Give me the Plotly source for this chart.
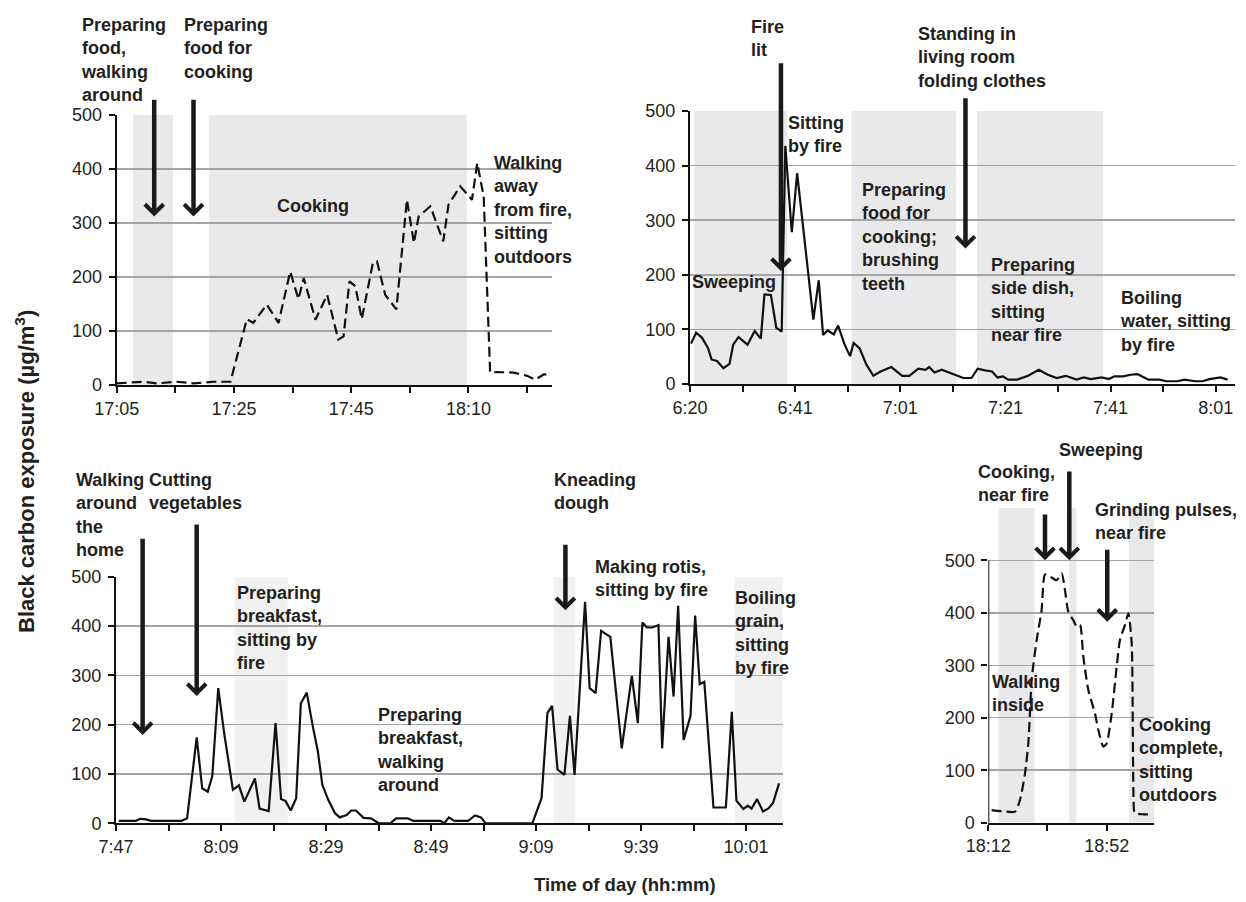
import plotly.graph_objects as go

W, H = 1246, 902

# ---------------- DATA ----------------
# Panel 1 (dashed) : x in sample units (10 units per axis tick)
p1_x = [0, 2.3, 4.55, 6.83, 10.2, 13.1, 16.5, 19.4, 22.2, 23.3, 25.6, 27.6, 29.6, 31.0, 31.9, 33.9, 35.9, 37.8,
        38.7, 39.7, 40.7, 41.8, 43.7, 44.4, 45.8, 47.7, 49.5, 50.7, 51.5, 53.5, 55.7, 56.6, 58.6, 60.6, 61.5, 62.6,
        63.7, 64.9, 67.7, 70.0, 71.4, 72.9, 74.0]
p1_y = [3, 4, 6, 3, 6, 3, 6, 6, 122, 115, 149, 115, 210, 159, 198, 121, 167, 84,
        90, 192, 183, 122, 226, 229, 167, 140, 343, 263, 312, 331, 266, 334, 368, 343, 411, 349,
        23, 24, 23, 17, 10, 20, 17]
p1_ticklabels = ["17:05", "", "17:25", "", "17:45", "", "18:10", ""]
p1_shade = [(2.8, 9.6), (15.7, 59.7)]

# Panel 2 (solid)
p2_x = [0.2, 1.16, 2.26, 3.42, 4.10, 5.13, 6.36, 7.52, 8.21, 9.23, 10.94, 12.31, 13.47, 14.16, 15.39, 16.42,
        17.44, 18.13, 19.36, 20.38, 23.46, 24.49, 25.31, 26.20, 27.36, 28.18, 29.41, 30.44, 31.12, 32.28,
        33.52, 34.88, 36.25, 38.30, 40.36, 41.72, 43.43, 44.80, 45.49, 46.51, 47.88, 49.25, 50.62, 51.98,
        53.56, 54.72, 56.09, 57.46, 58.48, 59.51, 60.53, 62.24, 64.30, 66.35, 68.06, 69.77, 71.48, 73.53,
        74.90, 76.27, 78.32, 79.69, 80.71, 82.42, 83.79, 85.16, 87.21, 89.26, 90.63, 92.68, 94.05, 96.10,
        97.47, 98.84, 100.89, 102.26]
p2_y = [74, 94, 85, 66, 45, 42, 29, 37, 72, 86, 72, 97, 83, 164, 163, 103,
        96, 436, 278, 386, 118, 190, 90, 98, 91, 107, 72, 51, 75, 65,
        36, 15, 23, 31, 15, 15, 28, 26, 31, 21, 26, 21, 17, 11,
        11, 28, 25, 23, 12, 14, 8, 8, 15, 26, 17, 11, 15, 8,
        12, 9, 12, 9, 14, 14, 17, 18, 8, 8, 5, 5, 8, 5,
        5, 9, 12, 8]
p2_ticklabels = ["6:20", "", "6:41", "", "7:01", "", "7:21", "", "7:41", "", "8:01"]
p2_shade = [(0.8, 18.5), (30.7, 50.6), (54.6, 78.6)]

# Panel 3 (solid)
p3_x = [0.52, 3.76, 4.63, 5.76, 6.64, 12.49, 13.54, 15.37, 16.42, 17.47, 18.34, 19.48, 20.61, 22.27, 23.41,
        24.45, 26.46, 27.34, 29.08, 30.39, 31.44, 32.31, 33.28, 34.32, 35.20, 36.33, 37.55, 38.43, 39.30,
        40.44, 41.75, 42.62, 43.93, 44.80, 45.68, 47.16, 48.56, 50.04, 52.23, 53.36, 55.55, 56.59, 61.83,
        62.53, 63.41, 64.45, 67.07, 68.38, 69.52, 70.39, 79.30, 81.05, 82.18, 83.06, 84.10, 85.41, 86.46,
        87.34, 89.34, 90.22, 91.35, 92.40, 94.15, 96.33, 97.38, 98.25, 99.39, 100.26, 101.14, 102.18,
        103.32, 104.02, 105.24, 106.20, 107.07, 108.12, 109.43, 110.31, 111.18, 112.05, 113.80, 116.16,
        117.29, 118.17, 119.48, 120.35, 121.05, 122.10, 123.23, 124.28, 125.15, 126.29]
p3_y = [5, 5, 9, 8, 5, 5, 10, 174, 71, 64, 96, 274, 182, 68, 77,
        44, 91, 30, 25, 203, 49, 45, 26, 51, 243, 265, 193, 147, 78,
        47, 20, 12, 17, 26, 26, 11, 10, 0, 0, 10, 10, 5, 5,
        0, 12, 5, 5, 16, 12, 0, 0, 51, 224, 238, 109, 98, 218,
        98, 449, 274, 264, 390, 378, 152, 233, 299, 203, 407, 397, 397,
        402, 152, 378, 257, 441, 169, 218, 421, 282, 287, 32, 32,
        226, 46, 29, 36, 30, 49, 24, 30, 41, 81]
p3_ticklabels = ["7:47", "", "8:09", "", "8:29", "", "8:49", "", "9:09", "", "9:39", "", "10:01"]
p3_shade = [(22.6, 32.7), (83.4, 87.5), (117.8, 127.0)]

# Panel 4 (dashed, smoothed)
p4_x = [0.56, 2.25, 4.51, 5.35, 6.20, 6.76, 7.04, 7.32, 8.17, 9.01, 9.58, 10.42, 11.55, 12.39, 12.96, 13.52,
        14.37, 14.93, 15.49, 16.06, 16.90, 18.03, 18.59, 19.44, 20.0, 20.85, 21.69, 22.25, 23.10, 23.66,
        24.23, 24.62, 24.79, 26.2, 27.6]
p4_y = [24, 22, 21, 43, 94, 151, 208, 272, 348, 405, 473, 469, 462, 475, 443, 402,
        386, 374, 377, 316, 253, 208, 177, 145, 151, 208, 297, 348, 377, 399,
        342, 24, 18, 16, 16]
p4_ticklabels = ["18:12", "", "18:52"]
p4_shade = [(1.7, 7.8), (13.7, 14.9), (23.8, 28.0)]

# Event arrows: (panel, x, tip value, tail value)
arrows = [
    (1, 6.4, 312, 531), (1, 13.1, 312, 531),
    (2, 17.3, 207, 590), (2, 52.4, 248, 526),
    (3, 5.07, 179, 580), (3, 15.37, 258, 609), (3, 85.6, 432, 568),
    (4, 9.58, 500, 590), (4, 13.69, 500, 672), (4, 20.1, 383, 523),
]

# Labels: (text, left px, first-line centre px)
labels = [
    ("Preparing<br>food,<br>walking<br>around", 80, 25),
    ("Preparing<br>food for<br>cooking", 183, 25),
    ("Cooking", 276, 206),
    ("Walking<br>away<br>from fire,<br>sitting<br>outdoors", 493, 163),
    ("Fire<br>lit", 750, 27),
    ("Standing in<br>living room<br>folding clothes", 917, 34),
    ("Sitting<br>by fire", 787, 123),
    ("Sweeping", 691, 282),
    ("Preparing<br>food for<br>cooking;<br>brushing<br>teeth", 861, 190),
    ("Preparing<br>side dish,<br>sitting<br>near fire", 990, 265),
    ("Boiling<br>water, sitting<br>by fire", 1119, 298),
    ("Walking<br>around<br>the<br>home", 75, 480),
    ("Cutting<br>vegetables", 148, 480),
    ("Preparing<br>breakfast,<br>sitting by<br>fire", 236, 593),
    ("Preparing<br>breakfast,<br>walking<br>around", 376, 715),
    ("Kneading<br>dough", 553, 480),
    ("Making rotis,<br>sitting by fire", 594, 567),
    ("Boiling<br>grain,<br>sitting<br>by fire", 734, 598),
    ("Cooking,<br>near fire", 977, 472),
    ("Sweeping", 1058, 450),
    ("Grinding pulses,<br>near fire", 1094, 510),
    ("Walking<br>inside", 991, 682),
    ("Cooking<br>complete,<br>sitting<br>outdoors", 1138, 725),
]

# ---------------- LAYOUT GEOMETRY (pixels) ----------------
panels = {
    1: dict(px0=116.7, px1=551.7, pyb=385, pyt=115, xr=74.2, yr=500, shade="#e9e9eb"),
    2: dict(px0=690, px1=1235, pyb=384, pyt=111, xr=103.67, yr=500, shade="#e9e9eb"),
    3: dict(px0=116, px1=783.3, pyb=823.3, pyt=576.7, xr=127.1, yr=500, shade="#f0f1f0"),
    4: dict(px0=988.3, px1=1154, pyb=822.7, pyt=507.8, xr=28.0, yr=600, shade="#e9e9eb"),
}
series = {
    1: (p1_x, p1_y, p1_ticklabels, p1_shade, "10px,5px", "linear"),
    2: (p2_x, p2_y, p2_ticklabels, p2_shade, "solid", "linear"),
    3: (p3_x, p3_y, p3_ticklabels, p3_shade, "solid", "linear"),
    4: (p4_x, p4_y, p4_ticklabels, p4_shade, "10px,5px", "spline"),
}

FONT = "Liberation Sans, Arial, sans-serif"
TXT = "#231f20"

fig = go.Figure()
layout = dict(width=W, height=H, margin=dict(l=0, r=0, t=0, b=0, pad=0, autoexpand=False),
              template="none",
              paper_bgcolor="white", plot_bgcolor="white", showlegend=False,
              font=dict(family=FONT, color=TXT))
shapes = []
annotations = []

for k, p in panels.items():
    xs, ys, tl, shade, dash, shape = series[k]
    sx = "" if k == 1 else str(k)
    xa, ya = "x" + sx, "y" + sx
    fig.add_trace(go.Scatter(x=xs, y=ys, mode="lines", xaxis=xa, yaxis=ya,
                             line=dict(color="#111111", width=2.2, dash=dash, shape=shape,
                                       smoothing=0.6 if shape == "spline" else None),
                             hoverinfo="skip"))
    layout["xaxis" + sx] = dict(
        domain=[p["px0"] / W, p["px1"] / W], range=[0, p["xr"]], anchor=ya, automargin=False,
        tickmode="array", tickvals=[10 * i for i in range(len(tl))], ticktext=tl,
        ticks="outside", ticklen=6, tickwidth=2, tickcolor="#111",
        showline=True, linecolor="#111", linewidth=2, showgrid=False, zeroline=False,
        tickfont=dict(size=18, family=FONT, color=TXT))
    layout["yaxis" + sx] = dict(
        domain=[1 - p["pyb"] / H, 1 - p["pyt"] / H], range=[0, p["yr"]], anchor=xa, automargin=False,
        tickmode="array", tickvals=[0, 100, 200, 300, 400, 500],
        ticks="outside", ticklen=6, tickwidth=2, tickcolor="#111",
        showline=(k != 4), linecolor="#111", linewidth=2,
        showgrid=True, gridcolor="#a4a4a4", gridwidth=1.5, zeroline=False,
        ticklabelstandoff=3,
        tickfont=dict(size=18, family=FONT, color=TXT))
    for (a, b) in shade:
        shapes.append(dict(type="rect", xref=xa, yref=ya, x0=a, x1=b, y0=0,
                           y1=p["yr"] if k == 4 else 500,
                           fillcolor=p["shade"], line=dict(width=0), layer="below"))
    if k == 4:
        shapes.append(dict(type="line", xref=xa, yref=ya, x0=0, x1=0, y0=0, y1=500,
                           line=dict(color="#111", width=2)))

for (k, x, tip, tail) in arrows:
    sx = "" if k == 1 else str(k)
    annotations.append(dict(xref="x" + sx, yref="y" + sx, axref="x" + sx, ayref="y" + sx,
                            x=x, y=tip, ax=x, ay=tail, text="", showarrow=True,
                            arrowhead=4, arrowwidth=4.5, arrowsize=0.8, arrowcolor="#1a1a1a",
                            standoff=0, startstandoff=0))

FS = 18
for (txt, lx, cy) in labels:
    annotations.append(dict(xref="paper", yref="paper", x=(lx - 1) / W,
                            y=1 - (cy - 0.62 * FS - 1) / H, xanchor="left", yanchor="top",
                            align="left", showarrow=False, text=txt,
                            font=dict(size=FS, family=FONT, color=TXT, weight="bold")))

annotations.append(dict(xref="paper", yref="paper", x=25 / W, y=1 - 472 / H, textangle=-90,
                        showarrow=False, xanchor="center", yanchor="middle",
                        text="Black carbon exposure (µg/m<sup>3</sup>)",
                        font=dict(size=22, family=FONT, color=TXT, weight="bold")))
annotations.append(dict(xref="paper", yref="paper", x=625 / W, y=1 - 884 / H,
                        showarrow=False, xanchor="center", yanchor="middle",
                        text="Time of day (hh:mm)",
                        font=dict(size=18.5, family=FONT, color=TXT, weight="bold")))

layout["shapes"] = shapes
layout["annotations"] = annotations
fig.update_layout(**layout)
fig.write_html("out.html", config={"displayModeBar": False, "staticPlot": True},
               post_script="document.body.style.margin='0px';")
